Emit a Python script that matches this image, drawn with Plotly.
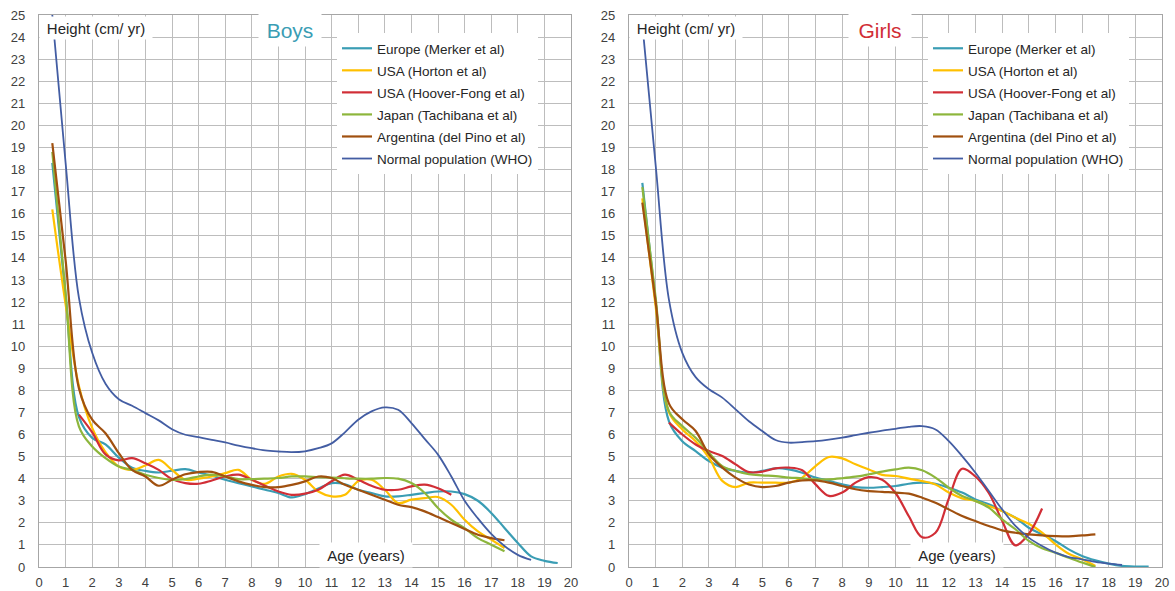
import plotly.graph_objects as go
from plotly.subplots import make_subplots

# ---------------- growth-velocity data (cm / yr) ----------------
series_names = [
    "Europe (Merker et al)",
    "USA (Horton et al)",
    "USA (Hoover-Fong et al)",
    "Japan (Tachibana et al)",
    "Argentina (del Pino et al)",
    "Normal population (WHO)",
]
series_colors = ["#3A9DB4", "#FFC000", "#D12E36", "#8DB63C", "#A0500F", "#435DA3"]
series_widths = [2.2, 2.2, 2.2, 2.2, 2.2, 1.8]

# ---- Boys ----
boys_eu_age = [0.5, 1, 1.5, 2, 2.5, 3, 3.5, 4, 4.5, 5, 5.5, 6, 6.5, 7, 7.5, 8, 8.5, 9, 9.5, 10,
               10.5, 11, 11.5, 12, 12.5, 13, 13.5, 14, 14.5, 15, 15.5, 16, 16.5, 17, 17.5, 18,
               18.5, 19, 19.5]
boys_eu = [18.3, 12.3, 6.8, 5.85, 5.55, 4.95, 4.5, 4.35, 4.28, 4.36, 4.43, 4.28, 4.13, 3.95, 3.8,
           3.65, 3.5, 3.35, 3.15, 3.3, 3.55, 3.8, 3.75, 3.5, 3.35, 3.2, 3.2, 3.27, 3.35, 3.42,
           3.42, 3.3, 3.0, 2.45, 1.77, 1.09, 0.48, 0.28, 0.18]

boys_horton_age = [0.5, 1, 1.5, 2, 2.5, 3, 3.5, 4, 4.5, 5, 5.5, 6, 6.5, 7, 7.5, 8, 8.5, 9, 9.5,
                   10, 10.5, 11, 11.5, 12, 12.5, 13, 13.5, 14, 14.5, 15, 15.5, 16, 16.5, 17, 17.5]
boys_horton = [16.2, 11.9, 8.2, 6.3, 5.2, 4.55, 4.4, 4.6, 4.85, 4.4, 3.95, 4.0, 4.1, 4.25, 4.4,
               3.95, 3.77, 4.1, 4.22, 3.95, 3.42, 3.2, 3.27, 3.88, 3.95, 3.5, 2.9, 3.05, 3.12,
               3.17, 2.82, 2.14, 1.61, 1.24, 0.86]

boys_hoover_age = [1.5, 2, 2.5, 3, 3.5, 4, 4.5, 5, 5.5, 6, 6.5, 7, 7.5, 8, 8.5, 9, 9.5, 10,
                   10.5, 11, 11.5, 12, 12.5, 13, 13.5, 14, 14.5, 15, 15.5]
boys_hoover = [6.9, 6.1, 5.1, 4.83, 4.93, 4.7, 4.4, 3.98, 3.8, 3.77, 3.92, 4.1, 4.18, 3.95, 3.68,
               3.42, 3.27, 3.32, 3.5, 3.88, 4.18, 3.95, 3.68, 3.5, 3.5, 3.65, 3.73, 3.57, 3.27]

boys_japan_age = [0.5, 1, 1.5, 2, 2.5, 3, 3.5, 4, 4.5, 5, 5.5, 6, 6.5, 7, 7.5, 8, 8.5, 9, 9.5,
                  10, 10.5, 11, 11.5, 12, 12.5, 13, 13.5, 14, 14.5, 15, 15.5, 16, 16.5, 17, 17.5]
boys_japan = [18.8, 12.4, 6.37, 5.46, 4.93, 4.55, 4.4, 4.18, 4.03, 3.95, 3.98, 4.1, 4.18, 4.1,
              3.98, 3.98, 4.0, 4.03, 4.1, 4.1, 4.07, 4.05, 4.02, 4.0, 4.0, 4.03, 4.0, 3.8, 3.35,
              2.67, 2.14, 1.76, 1.31, 1.01, 0.71]

boys_arg_age = [0.5, 1, 1.5, 2, 2.5, 3, 3.5, 4, 4.5, 5, 5.5, 6, 6.5, 7, 7.5, 8, 8.5, 9, 9.5,
                10, 10.5, 11, 11.5, 12, 12.5, 13, 13.5, 14, 14.5, 15, 15.5, 16, 16.5, 17, 17.5]
boys_arg = [19.2, 13.9, 8.1, 6.67, 6.06, 5.16, 4.4, 4.1, 3.68, 3.95, 4.2, 4.3, 4.31, 4.1, 3.88,
            3.72, 3.62, 3.62, 3.72, 3.88, 4.1, 4.03, 3.72, 3.5, 3.27, 3.05, 2.82, 2.71, 2.52,
            2.26, 1.99, 1.72, 1.46, 1.31, 1.21]

boys_who_age = [0.5, 1, 1.5, 2, 2.5, 3, 3.5, 4, 4.5, 5, 5.5, 6, 6.5, 7, 7.5, 8, 8.5, 9, 9.5, 10,
                10.5, 11, 11.5, 12, 12.5, 13, 13.5, 14, 14.5, 15, 15.5, 16, 16.5, 17, 17.5, 18,
                18.5]
boys_who = [25.0, 18.3, 12.2, 9.7, 8.3, 7.6, 7.3, 6.97, 6.64, 6.24, 5.99, 5.88, 5.76, 5.64, 5.5,
            5.38, 5.28, 5.23, 5.2, 5.24, 5.38, 5.6, 6.1, 6.67, 7.05, 7.23, 7.12, 6.52, 5.8,
            5.09, 4.1, 3.0, 2.2, 1.5, 0.95, 0.55, 0.32]

# ---- Girls ----
girls_eu_age = [0.5, 1, 1.5, 2, 2.5, 3, 3.5, 4, 4.5, 5, 5.5, 6, 6.5, 7, 7.5, 8, 8.5, 9, 9.5, 10,
                10.5, 11, 11.5, 12, 12.5, 13, 13.5, 14, 14.5, 15, 15.5, 16, 16.5, 17, 17.5, 18,
                18.5, 19, 19.5]
girls_eu = [17.4, 12.0, 6.6, 5.7, 5.25, 4.8, 4.5, 4.35, 4.27, 4.35, 4.47, 4.42, 4.27, 4.05, 3.9,
            3.74, 3.62, 3.59, 3.62, 3.67, 3.77, 3.82, 3.77, 3.59, 3.37, 3.06, 2.84, 2.54, 2.23,
            1.78, 1.48, 1.18, 0.8, 0.5, 0.3, 0.15, 0.05, 0.02, 0.02]

girls_horton_age = [0.5, 1, 1.5, 2, 2.5, 3, 3.5, 4, 4.5, 5, 5.5, 6, 6.5, 7, 7.5, 8, 8.5, 9, 9.5,
                    10, 10.5, 11, 11.5, 12, 12.5, 13, 13.5, 14, 14.5, 15, 15.5, 16, 16.5, 17, 17.5]
girls_horton = [16.7, 11.8, 7.0, 6.23, 5.7, 4.95, 3.9, 3.62, 3.82, 3.82, 3.82, 3.82, 4.05, 4.57,
                4.98, 4.92, 4.65, 4.42, 4.17, 4.12, 4.0, 3.89, 3.74, 3.37, 3.11, 2.99, 2.76, 2.54,
                2.23, 1.96, 1.56, 1.03, 0.6, 0.35, 0.05]

girls_hoover_age = [1.5, 2, 2.5, 3, 3.5, 4, 4.5, 5, 5.5, 6, 6.5, 7, 7.5, 8, 8.5, 9, 9.5, 10,
                    10.5, 11, 11.5, 12, 12.5, 13, 13.5, 14, 14.5, 15, 15.5]
girls_hoover = [6.54, 6.0, 5.55, 5.25, 5.03, 4.65, 4.3, 4.32, 4.47, 4.5, 4.38, 3.74, 3.22, 3.37,
                3.82, 4.07, 3.95, 3.35, 2.3, 1.35, 1.55, 3.1, 4.45, 4.1, 3.35, 2.1, 0.98, 1.5, 2.65]

girls_japan_age = [0.5, 1, 1.5, 2, 2.5, 3, 3.5, 4, 4.5, 5, 5.5, 6, 6.5, 7, 7.5, 8, 8.5, 9, 9.5,
                   10, 10.5, 11, 11.5, 12, 12.5, 13, 13.5, 14, 14.5, 15, 15.5, 16, 16.5, 17, 17.5]
girls_japan = [17.2, 12.2, 7.06, 6.38, 5.85, 5.17, 4.57, 4.35, 4.2, 4.15, 4.12, 4.05, 4.02, 3.97,
               3.97, 4.02, 4.09, 4.2, 4.32, 4.42, 4.5, 4.38, 4.05, 3.59, 3.22, 2.99, 2.69, 2.16,
               1.71, 1.18, 0.85, 0.65, 0.42, 0.2, 0.0]

girls_arg_age = [0.5, 1, 1.5, 2, 2.5, 3, 3.5, 4, 4.5, 5, 5.5, 6, 6.5, 7, 7.5, 8, 8.5, 9, 9.5,
                 10, 10.5, 11, 11.5, 12, 12.5, 13, 13.5, 14, 14.5, 15, 15.5, 16, 16.5, 17, 17.5]
girls_arg = [16.5, 12.0, 7.4, 6.69, 6.16, 5.1, 4.5, 4.05, 3.74, 3.62, 3.67, 3.82, 3.92, 3.92,
             3.82, 3.67, 3.52, 3.44, 3.4, 3.37, 3.32, 3.14, 2.91, 2.61, 2.31, 2.08, 1.86, 1.66,
             1.55, 1.48, 1.43, 1.4, 1.39, 1.43, 1.48]

girls_who_age = [0.5, 1, 1.5, 2, 2.5, 3, 3.5, 4, 4.5, 5, 5.5, 6, 6.5, 7, 7.5, 8, 8.5, 9, 9.5,
                 10, 10.5, 11, 11.5, 12, 12.5, 13, 13.5, 14, 14.5, 15, 15.5, 16, 16.5, 17, 17.5,
                 18, 18.5]
girls_who = [24.6, 18.2, 12.1, 9.7, 8.6, 8.05, 7.67, 7.14, 6.6, 6.16, 5.75, 5.63, 5.66, 5.7,
             5.77, 5.86, 5.97, 6.08, 6.18, 6.26, 6.35, 6.38, 6.23, 5.7, 5.02, 4.27, 3.44, 2.61,
             1.86, 1.33, 0.95, 0.65, 0.45, 0.35, 0.23, 0.15, 0.09]

boys = [
    (boys_eu_age, boys_eu), (boys_horton_age, boys_horton), (boys_hoover_age, boys_hoover),
    (boys_japan_age, boys_japan), (boys_arg_age, boys_arg), (boys_who_age, boys_who),
]
girls = [
    (girls_eu_age, girls_eu), (girls_horton_age, girls_horton), (girls_hoover_age, girls_hoover),
    (girls_japan_age, girls_japan), (girls_arg_age, girls_arg), (girls_who_age, girls_who),
]

x_ticks = list(range(0, 21))
y_ticks = list(range(0, 26))

FONT = "Arial, Liberation Sans, sans-serif"
GRID = "#BDBDBD"
TEXT = "#262626"

fig = make_subplots(rows=1, cols=2, horizontal_spacing=0.05)

for col, (panel, legend_id, tag) in enumerate(
        [(boys, "legend", "b"), (girls, "legend2", "g")], start=1):
    for i, ((ages, vals), name, color, width) in enumerate(
            zip(panel, series_names, series_colors, series_widths)):
        fig.add_trace(
            go.Scatter(
                x=ages, y=vals, name=name, mode="lines",
                line=dict(color=color, width=width, shape="spline", smoothing=1.0),
                legend=legend_id, legendgroup=f"{tag}{i}", showlegend=True,
            ),
            row=1, col=col,
        )

W, H = 1175, 591
M_L, M_R, M_T, M_B = 39, 13, 15, 24
plot_w = W - M_L - M_R
x_dom1 = [0, (571 - M_L) / plot_w]
x_dom2 = [(629 - M_L) / plot_w, 1]

axis_common = dict(
    showgrid=True, gridcolor=GRID, gridwidth=1.2,
    showline=True, linecolor="#A6A6A6", linewidth=1.2, mirror=True,
    zeroline=False, ticks="", automargin=False,
    tickfont=dict(family=FONT, size=13, color="#404040"),
)
fig.update_xaxes(range=[0, 20], tickvals=x_ticks, ticklabelstandoff=3, **axis_common)
fig.update_yaxes(range=[0, 25], tickvals=y_ticks, ticklabelstandoff=10, **axis_common)
fig.update_layout(
    xaxis=dict(domain=x_dom1), xaxis2=dict(domain=x_dom2),
    yaxis=dict(domain=[0, 1]), yaxis2=dict(domain=[0, 1]),
)

legend_common = dict(
    bgcolor="white", borderwidth=0, font=dict(family=FONT, size=13.5, color=TEXT),
    xanchor="left", yanchor="top", tracegroupgap=1.5, itemwidth=30,
    xref="container", yref="container",
)
fig.update_layout(
    legend=dict(x=337 / W, y=1 - 33 / H, **legend_common),
    legend2=dict(x=928 / W, y=1 - 33 / H, **legend_common),
)

annotations = []
for xa, ya, title, tcolor in [("x", "y", "Boys", "#3A9DB4"), ("x2", "y2", "Girls", "#D12E36")]:
    annotations.append(dict(
        x=2.14, y=24.42, xref=xa, yref=ya, text="Height (cm/ yr)", showarrow=False,
        font=dict(family=FONT, size=15, color=TEXT), bgcolor="white", width=110, height=20,
    ))
    annotations.append(dict(
        x=9.43, y=24.3, xref=xa, yref=ya, text=title, showarrow=False,
        font=dict(family=FONT, size=21, color=tcolor), bgcolor="white", width=60, height=30,
    ))
    annotations.append(dict(
        x=12.3, y=0.56, xref=xa, yref=ya, text="Age (years)", showarrow=False,
        font=dict(family=FONT, size=15, color=TEXT), bgcolor="white", width=90, height=22,
    ))

fig.update_layout(
    width=W, height=H, margin=dict(l=M_L, r=M_R, t=M_T, b=M_B, autoexpand=False),
    paper_bgcolor="white", plot_bgcolor="white",
    annotations=annotations, font=dict(family=FONT),
)

fig.write_html("out.html")
